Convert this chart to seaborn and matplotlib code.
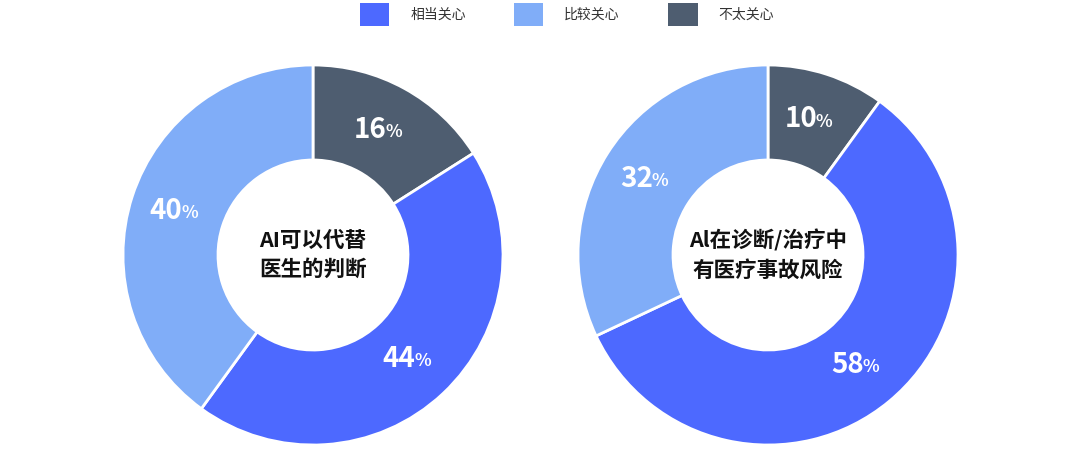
import numpy as np
import matplotlib
matplotlib.use('Agg')
import matplotlib.pyplot as plt
import seaborn as sns
from matplotlib.patches import Patch

# 数据
categorias = ['相当关心', '比较关心', '不太关心']
cores = ['#4D69FF', '#80ADF8', '#4E5D70']

titulos = ['AI可以代替\n医生的判断', 'Al在诊断/治疗中\n有医疗事故风险']
# ordem horária a partir do topo: 不太关心, 相当关心, 比较关心
valores_esq = [16, 44, 40]
valores_dir = [10, 58, 32]
ordem = [2, 0, 1]

sns.set_theme(style='white')
plt.rcParams['font.family'] = ['Noto Sans CJK SC', 'DejaVu Sans']

fig = plt.figure(figsize=(10.8, 4.62), dpi=100)
W, H = 1080, 462


def donut(cx, cy, r, valores, titulo):
    ax = fig.add_axes([(cx - r) / W, (H - cy - r) / H, 2 * r / W, 2 * r / H])
    cols = [cores[i] for i in ordem]
    ax.pie(valores, colors=cols, startangle=90, counterclock=False,
           wedgeprops=dict(width=0.5, edgecolor='white', linewidth=2),
           radius=1.0)
    ax.set_xlim(-1, 1)
    ax.set_ylim(-1, 1)
    ax.set_aspect('equal')
    ax.axis('off')

    # rótulos de porcentagem
    acum = np.cumsum([0] + valores)
    for i, v in enumerate(valores):
        meio = (acum[i] + v / 2) / sum(valores) * 2 * np.pi
        x, y = 0.75 * np.sin(meio), 0.75 * np.cos(meio)
        t = ax.text(x - 0.06, y, str(v), ha='center', va='center',
                    fontsize=20, fontweight='bold', color='white')
        ax.annotate('%', xy=(0.96, 0.1), xycoords=t, ha='left', va='bottom',
                    fontsize=12.5, fontweight='bold', color='white')

    ax.text(0, 0, titulo, ha='center', va='center', fontsize=15.5,
            fontweight='bold', color='#111111', linespacing=1.45)
    return ax


donut(313, 255, 190, valores_esq, titulos[0])
donut(768, 255, 190, valores_dir, titulos[1])

handles = [Patch(facecolor=c, edgecolor='none') for c in cores]
fig.legend(handles, categorias, loc='upper center', bbox_to_anchor=(0.525, 1.005),
           ncol=3, frameon=False, fontsize=10, handlelength=2.1, handleheight=2.1,
           handletextpad=1.5, columnspacing=3.5, borderaxespad=0.0,
           labelcolor='#333333')

fig.savefig('out.png', dpi=100, facecolor='white')
